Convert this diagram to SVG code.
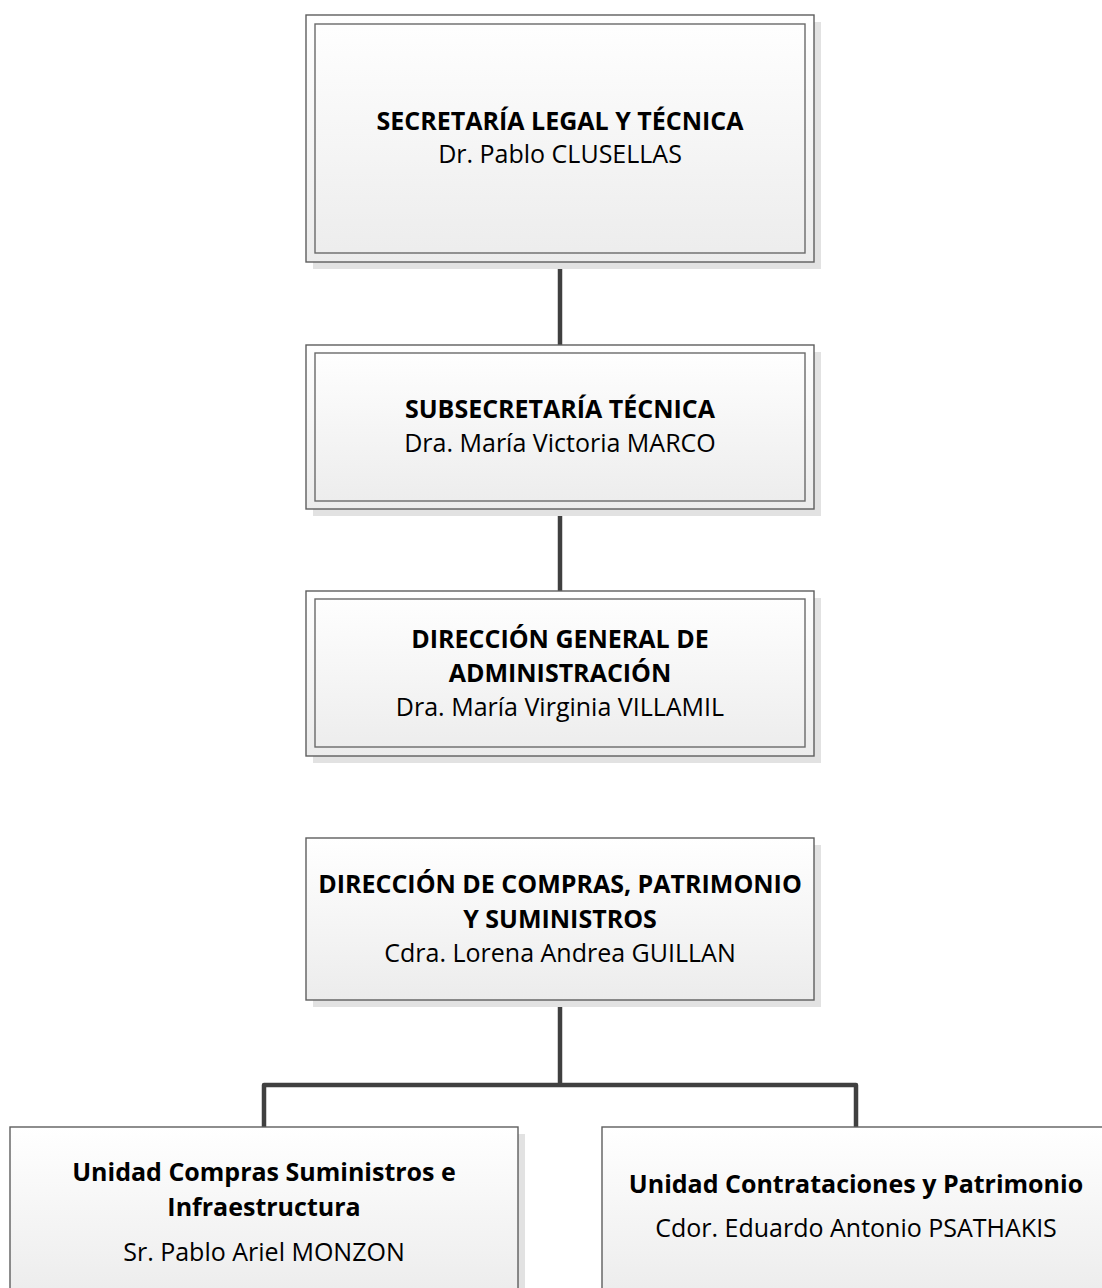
<svg xmlns="http://www.w3.org/2000/svg" width="1102" height="1288" viewBox="0 0 1102 1288">
  <defs>
    <linearGradient id="fillGrad" x1="0" y1="0" x2="0" y2="1">
      <stop offset="0" stop-color="#ffffff"/>
      <stop offset="1" stop-color="#ececec"/>
    </linearGradient>
    <style>
      .shadow { fill: #e2e2e2; }
      .outer { fill: url(#fillGrad); stroke: #5e5e5e; stroke-width: 1.4; }
      .inner { fill: none; stroke: #6a6a6a; stroke-width: 1.4; }
      .conn { fill: none; stroke: #404040; stroke-width: 4.5; stroke-linejoin: round; stroke-linecap: butt; }
      .t { font-family: "Open Sans", "Liberation Sans", sans-serif; font-size: 25px; fill: #000; text-anchor: middle; }
      .b { font-weight: bold; }
    </style>
  </defs>
  <rect width="1102" height="1288" fill="#ffffff"/>

  <g id="connectors">
    <path class="conn" d="M560 262 V345"/>
    <path class="conn" d="M560 509 V591"/>
    <path class="conn" d="M560 1000 V1085"/>
    <path class="conn" d="M264 1127 V1085 H856 V1127"/>
  </g>

  <g id="node-secretaria">
    <rect class="shadow" x="313" y="22" width="508" height="247"/>
    <rect class="outer" x="306" y="15" width="508" height="247"/>
    <rect class="inner" x="315" y="24" width="490" height="229"/>
    <text class="t b" x="560" y="130">SECRETARÍA LEGAL Y TÉCNICA</text>
    <text class="t" x="560" y="163">Dr. Pablo CLUSELLAS</text>
  </g>

  <g id="node-subsecretaria">
    <rect class="shadow" x="313" y="352" width="508" height="164"/>
    <rect class="outer" x="306" y="345" width="508" height="164"/>
    <rect class="inner" x="315" y="353" width="490" height="148"/>
    <text class="t b" x="560" y="418">SUBSECRETARÍA TÉCNICA</text>
    <text class="t" x="560" y="452">Dra. María Victoria MARCO</text>
  </g>

  <g id="node-dga">
    <rect class="shadow" x="313" y="598" width="508" height="165"/>
    <rect class="outer" x="306" y="591" width="508" height="165"/>
    <rect class="inner" x="315" y="599" width="490" height="148"/>
    <text class="t b" x="560" y="647.5">DIRECCIÓN GENERAL DE</text>
    <text class="t b" x="560" y="681.5">ADMINISTRACIÓN</text>
    <text class="t" x="560" y="715.5">Dra. María Virginia VILLAMIL</text>
  </g>

  <g id="node-compras">
    <rect class="shadow" x="313" y="845" width="508" height="162"/>
    <rect class="outer" x="306" y="838" width="508" height="162"/>
    <text class="t b" x="560" y="893">DIRECCIÓN DE COMPRAS, PATRIMONIO</text>
    <text class="t b" x="560" y="927.5">Y SUMINISTROS</text>
    <text class="t" x="560" y="962">Cdra. Lorena Andrea GUILLAN</text>
  </g>

  <g id="node-unidad-compras">
    <rect class="shadow" x="17" y="1134" width="508" height="170"/>
    <rect class="outer" x="10" y="1127" width="508" height="170"/>
    <text class="t b" x="264" y="1181">Unidad Compras Suministros e</text>
    <text class="t b" x="264" y="1216">Infraestructura</text>
    <text class="t" x="264" y="1261">Sr. Pablo Ariel MONZON</text>
  </g>

  <g id="node-unidad-contrataciones">
    <rect class="shadow" x="609" y="1134" width="508" height="170"/>
    <rect class="outer" x="602" y="1127" width="508" height="170"/>
    <text class="t b" x="856" y="1193">Unidad Contrataciones y Patrimonio</text>
    <text class="t" x="856" y="1237">Cdor. Eduardo Antonio PSATHAKIS</text>
  </g>
</svg>
